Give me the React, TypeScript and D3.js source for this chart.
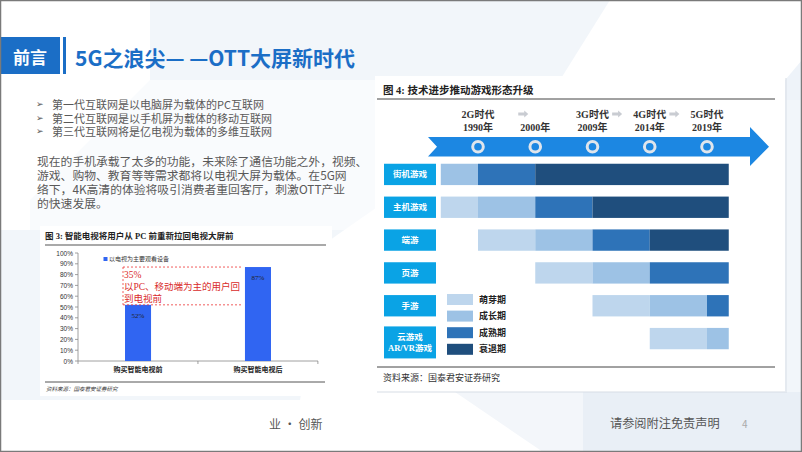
import React from "react";
import * as d3 from "d3";

// ---------- data ----------
const slideTag = "前言";
const slideTitle = "5G之浪尖— —OTT大屏新时代";
const bullets = [
  "第一代互联网是以电脑屏为载体的PC互联网",
  "第二代互联网是以手机屏为载体的移动互联网",
  "第三代互联网将是亿电视为载体的多维互联网",
];
const paragraphLines = [
  "现在的手机承载了太多的功能，未来除了通信功能之外，视频、",
  "游戏、购物、教育等等需求都将以电视大屏为载体。在5G网",
  "络下，4K高清的体验将吸引消费者重回客厅，刺激OTT产业",
  "的快速发展。",
];
const footerLeft = "业 · 创新";
const footerRight = "请参阅附注免责声明";
const pageNo = "4";

// left chart
const tvTitle = "图 3:  智能电视将用户从 PC 前重新拉回电视大屏前";
const tvSeriesName = "以电视为主要观看设备";
const tvCategories = ["购买智能电视前", "购买智能电视后"];
const tvValues = [52, 87];
const tvTicks = [0, 10, 20, 30, 40, 50, 60, 70, 80, 90, 100];
const tvNote = ["35%", "以PC、移动端为主的用户回", "到电视前"];
const tvSource = "资料来源：国泰君安证券研究";

// right chart
const gameTitle = "图 4:  技术进步推动游戏形态升级";
const eraNames = ["2G时代", "", "3G时代", "4G时代", "5G时代"];
const eraYears = ["1990年", "2000年", "2009年", "2014年", "2019年"];
const eraArrowsAfter = [0, 2, 3];
const timelineStart = -0.65;
const timelineEnd = 4.38;
const gameCategories = ["街机游戏", "主机游戏", "端游", "页游", "手游", "云游戏\nAR/VR游戏"];
const stageNames = ["萌芽期", "成长期", "成熟期", "衰退期"];
// [from, to, stage] per game, from/to in milestone index (0 = 1990 ... 4 = 2019)
const arcade = [[timelineStart, 0, 1], [0, 1, 2], [1, timelineEnd, 3]];
const consoleG = [[timelineStart, 0, 0], [0, 1, 1], [1, 2, 2], [2, timelineEnd, 3]];
const pcGame = [[0, 1, 0], [1, 2, 1], [2, 3, 2], [3, timelineEnd, 3]];
const webGame = [[1, 2, 0], [2, 3, 1], [3, timelineEnd, 2]];
const mobileGame = [[2, 3, 0], [3, 4, 1], [4, timelineEnd, 2]];
const cloudGame = [[3, 4, 0], [4, timelineEnd, 1]];
const gameSegments = [arcade, consoleG, pcGame, webGame, mobileGame, cloudGame];
const gameSource = "资料来源：国泰君安证券研究";

// ---------- styles ----------
const SANS = "'Noto Sans CJK SC', 'Noto Sans', sans-serif";
const SERIF = "'Liberation Serif', 'Noto Sans CJK SC', serif";
const stageColors = ["#bed6ed", "#9dc2e5", "#2e73b8", "#1f4e7d"];
const blue = "#1b6ec6";

export default function App() {
  // left chart scales
  const tvX = d3.scaleBand<string>().domain(tvCategories).range([78, 318]).paddingInner(0.783).paddingOuter(0.392);
  const tvY = d3.scaleLinear().domain([0, 100]).range([361, 253]);
  const tvStep = tvX.step();

  // right chart scales
  const gx = d3.scaleLinear().domain([0, 4]).range([478, 707]);
  const gy = d3.scaleBand<string>().domain(gameCategories).range([158, 355]).paddingInner(0.35).paddingOuter(0.175);
  const bh = gy.bandwidth();

  const arrowTop = 137, arrowBot = 156.5, arrowMid = (arrowTop + arrowBot) / 2;
  const arrowPath = `M428,${arrowTop} L750,${arrowTop} L750,127 L769,${arrowMid} L750,166 L750,${arrowBot} L428,${arrowBot} L437,${arrowMid} Z`;

  const arrowX = (i: number) => (i === 0 ? gx(1) - 12 : (gx(i) + gx(i + 1)) / 2 - 4);

  return (
    <svg width={802} height={452} style={{ position: "absolute", left: 0, top: 0 }} xmlns="http://www.w3.org/2000/svg">
      {/* background */}
      <rect x={0} y={0} width={802} height={452} fill="#ffffff" />
      <polygon points="150,0 610,0 560,80 330,240 300,400 0,400 0,230 150,80" fill="#f1f5fa" opacity={0.9} />
      <polygon points="0,90 30,90 30,230 0,230" fill="#ffffff" />
      <polygon points="30,80 560,80 380,230 30,230" fill="#ffffff" opacity={0.55} />
      <polygon points="802,60 760,110 802,110" fill="#eef3f9" />
      <polygon points="785,100 802,100 802,395 785,395" fill="#f2f6fa" />
      <polygon points="455,392 802,392 802,452 543,452" fill="#f3f6fa" />
      <polygon points="583,392 802,392 802,452 583,452" fill="#e9eff6" />

      {/* title */}
      <rect x={0} y={37} width={60} height={37} fill={blue} />
      <text x={30} y={56} textAnchor="middle" dominantBaseline="central" fill="#fff" fontFamily={SANS} fontWeight={700} fontSize={17}>{slideTag}</text>
      <rect x={63} y={37} width={3} height={37} fill={blue} />
      <text x={75} y={57} dominantBaseline="central" fill={blue} fontFamily={SANS} fontWeight={700} fontSize={21}>{slideTitle}</text>

      {/* bullets */}
      {bullets.map((b, i) => (
        <g key={b}>
          <text x={36} y={104 + i * 13.5} dominantBaseline="central" fill="#555" fontFamily="'DejaVu Sans', sans-serif" fontSize={9}>➢</text>
          <text x={52} y={104 + i * 13.5} dominantBaseline="central" fill="#595959" fontFamily={SANS} fontSize={11}>{b}</text>
        </g>
      ))}
      {paragraphLines.map((l, i) => (
        <text key={l} x={37} y={160 + i * 14.2} dominantBaseline="central" fill="#595959" fontFamily={SANS} fontSize={11.8}>{l}</text>
      ))}

      {/* left chart panel */}
      <rect x={40} y={226} width={292} height={170} fill="#ffffff" />
      <text x={45} y={236} dominantBaseline="central" fill="#222" fontFamily={SERIF} fontWeight={700} fontSize={8.5}>{tvTitle}</text>
      <line x1={45} x2={326} y1={245} y2={245} stroke="#555" strokeWidth={1.2} />
      {/* axes */}
      <line x1={78} x2={78} y1={tvY(100)} y2={tvY(0)} stroke="#888" strokeWidth={0.8} />
      {tvTicks.map((t) => (
        <g key={t}>
          <line x1={75} x2={78} y1={tvY(t)} y2={tvY(t)} stroke="#888" strokeWidth={0.8} />
          <text x={73} y={tvY(t)} textAnchor="end" dominantBaseline="central" fill="#333" fontFamily="Arial, 'Liberation Sans', sans-serif" fontSize={6.5}>{t}%</text>
        </g>
      ))}
      <line x1={78} x2={318} y1={tvY(0)} y2={tvY(0)} stroke="#888" strokeWidth={0.8} />
      {[0, 1, 2].map((k) => (
        <line key={k} x1={78 + k * tvStep} x2={78 + k * tvStep} y1={tvY(0)} y2={tvY(0) + 3} stroke="#888" strokeWidth={0.8} />
      ))}
      {tvCategories.map((c, i) => (
        <g key={c}>
          <rect x={tvX(c)!} y={tvY(tvValues[i])} width={tvX.bandwidth()} height={tvY(0) - tvY(tvValues[i])} fill="#3065f2" />
          <text x={tvX(c)! + tvX.bandwidth() / 2} y={tvY(tvValues[i]) + 11} textAnchor="middle" dominantBaseline="central" fill="#222" fontFamily={SERIF} fontSize={7}>{tvValues[i]}%</text>
          <text x={tvX(c)! + tvX.bandwidth() / 2} y={370} textAnchor="middle" dominantBaseline="central" fill="#222" fontFamily={SERIF} fontWeight={700} fontSize={7}>{c}</text>
        </g>
      ))}
      {/* legend */}
      <rect x={103.5} y={257} width={4} height={4} fill="#3065f2" />
      <text x={109} y={259} dominantBaseline="central" fill="#333" fontFamily={SERIF} fontSize={6}>{tvSeriesName}</text>
      {/* annotation */}
      <line x1={123} x2={243} y1={tvY(tvValues[1])} y2={tvY(tvValues[1])} stroke="#e33" strokeWidth={0.8} strokeDasharray="2,2" />
      <line x1={123} x2={243} y1={tvY(tvValues[0])} y2={tvY(tvValues[0])} stroke="#e33" strokeWidth={0.8} strokeDasharray="2,2" />
      <line x1={123} x2={123} y1={tvY(tvValues[1])} y2={tvY(tvValues[0])} stroke="#e33" strokeWidth={0.8} strokeDasharray="2,2" />
      {tvNote.map((n, i) => (
        <text key={n} x={124} y={275 + i * 12} dominantBaseline="central" fill="#d92b2b" fontFamily={SERIF} fontSize={9.5}>{n}</text>
      ))}
      <line x1={45} x2={325} y1={382} y2={382} stroke="#555" strokeWidth={1} />
      <text x={46} y={389} dominantBaseline="central" fill="#333" fontFamily={SERIF} fontStyle="italic" fontSize={5.5}>{tvSource}</text>

      {/* right chart panel */}
      <rect x={377} y={78} width={410} height={315} fill="#d8dee6" opacity={0.5} />
      <rect x={375} y={76} width={410} height={315} fill="#ffffff" />
      <text x={383} y={90} dominantBaseline="central" fill="#222" fontFamily={SERIF} fontWeight={700} fontSize={10.5}>{gameTitle}</text>
      <line x1={377} x2={775} y1={99} y2={99} stroke="#444" strokeWidth={1} />

      {/* era labels */}
      {eraYears.map((y, i) => (
        <g key={y}>
          {eraNames[i] && (
            <text x={gx(i)} y={114} textAnchor="middle" dominantBaseline="central" fill="#333" fontFamily={SERIF} fontWeight={700} fontSize={10}>{eraNames[i]}</text>
          )}
          <text x={gx(i)} y={127} textAnchor="middle" dominantBaseline="central" fill="#333" fontFamily={SERIF} fontWeight={700} fontSize={10}>{y}</text>
        </g>
      ))}
      {eraArrowsAfter.map((i) => {
        const cx = arrowX(i);
        const cy = 114;
        return (
          <path key={i} d={`M${cx - 5},${cy - 1.6} L${cx + 1},${cy - 1.6} L${cx + 1},${cy - 3.5} L${cx + 5},${cy} L${cx + 1},${cy + 3.5} L${cx + 1},${cy + 1.6} L${cx - 5},${cy + 1.6} Z`} fill="#c9ccd2" />
        );
      })}
      <path d={arrowPath} fill="#1c87e2" />
      {eraYears.map((y, i) => (
        <circle key={y} cx={gx(i)} cy={arrowMid} r={5.3} fill="none" stroke="#dfe5ec" strokeWidth={3} />
      ))}

      {/* game rows */}
      {gameCategories.map((g, r) => {
        const y0 = gy(g)!;
        const isLast = r === gameCategories.length - 1;
        const lines = g.split("\n");
        const boxY = isLast ? y0 - 1.5 : y0;
        const boxH = isLast ? 32 : bh;
        return (
          <g key={g}>
            <rect x={384} y={boxY} width={52} height={boxH} fill="#0aa3e5" />
            {lines.map((ln, k) => (
              <text key={ln} x={410} y={boxY + boxH / 2 + (k - (lines.length - 1) / 2) * 11} textAnchor="middle" dominantBaseline="central" fill="#fff" fontFamily={SERIF} fontWeight={700} fontSize={8.5}>{ln}</text>
            ))}
            {gameSegments[r].map(([a, b, s], k) => (
              <rect key={k} x={gx(a)} y={y0} width={gx(b) - gx(a)} height={bh} fill={stageColors[s]} />
            ))}
          </g>
        );
      })}

      {/* legend */}
      {stageNames.map((s, i) => (
        <g key={s}>
          <rect x={447} y={294 + i * 16.6} width={26} height={11} fill={stageColors[i]} />
          <text x={479} y={299.5 + i * 16.6} dominantBaseline="central" fill="#222" fontFamily={SERIF} fontWeight={700} fontSize={9}>{s}</text>
        </g>
      ))}
      <line x1={377} x2={775} y1={367} y2={367} stroke="#444" strokeWidth={1} />
      <text x={383} y={378} dominantBaseline="central" fill="#333" fontFamily={SERIF} fontSize={9}>{gameSource}</text>

      {/* footer */}
      <text x={269} y={423} dominantBaseline="central" fill="#555" fontFamily={SANS} fontSize={12}>{footerLeft}</text>
      <text x={610} y={423} dominantBaseline="central" fill="#555" fontFamily={SANS} fontSize={12.2}>{footerRight}</text>
      <text x={742} y={423} dominantBaseline="central" fill="#aaa" fontFamily={SANS} fontSize={10}>{pageNo}</text>

      {/* slide border */}
      <rect x={0.5} y={0.5} width={801} height={451} fill="none" stroke="#7a7a7a" strokeWidth={1.5} />
    </svg>
  );
}
